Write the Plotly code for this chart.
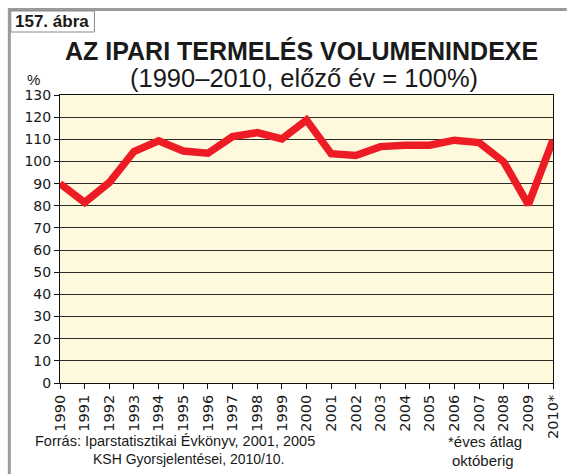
import plotly.graph_objects as go

years = list(range(1990, 2011))
index_values = [90, 81.5, 90.5, 104.5, 109.3, 104.7, 103.7, 111.2, 113, 110.2, 118.7,
                103.5, 102.7, 106.7, 107.3, 107.3, 109.6, 108.5, 99.8, 80.5, 109.7]
year_labels = [str(y) for y in years[:-1]] + ["2010*"]
y_ticks = list(range(0, 131, 10))

W, H = 573, 474
L, R, T, B = 60, 12, 95, 91
PW, PH = W - L - R, H - T - B


def px(x):
    return (x - L) / PW


def py(y):
    return (H - B - y) / PH


fig = go.Figure()
fig.add_trace(go.Scatter(
    x=years, y=index_values, mode="lines",
    line=dict(color="#ED1C24", width=7.5),
    hoverinfo="skip", showlegend=False,
))

axis_font = dict(family="DejaVu Sans, Arial", size=14, color="#1a1a1a")
fig.update_layout(
    width=W, height=H,
    margin=dict(l=L, r=R, t=T, b=B),
    paper_bgcolor="white",
    plot_bgcolor="#FEF9DD",
    showlegend=False,
    xaxis=dict(
        range=[1990, 2010], tickmode="array", tickvals=years, ticktext=year_labels,
        tickangle=-90, ticks="outside", ticklen=5, tickcolor="#111",
        showline=True, linecolor="#111", linewidth=1, mirror=True,
        showgrid=False, zeroline=False,
        tickfont=dict(family="DejaVu Sans, Arial", size=14.5, color="#1a1a1a"),
    ),
    yaxis=dict(
        range=[0, 130], tickmode="array", tickvals=y_ticks,
        ticks="outside", ticklen=5, tickcolor="#111",
        showline=True, linecolor="#111", linewidth=1, mirror=True,
        showgrid=True, gridcolor="#2a2a2a", gridwidth=1, zeroline=False,
        tickfont=axis_font,
    ),
)

gray = "#9a9a9a"
shapes = [
    dict(type="line", xref="paper", yref="paper", x0=px(8.5), x1=px(W + 2), y0=py(9.5), y1=py(9.5),
         line=dict(color=gray, width=3)),
    dict(type="line", xref="paper", yref="paper", x0=px(8.5), x1=px(8.5), y0=py(8), y1=py(H + 2),
         line=dict(color=gray, width=3)),
    dict(type="rect", xref="paper", yref="paper", x0=px(10), x1=px(95), y0=py(32), y1=py(11),
         line=dict(color="#8a8a8a", width=1), fillcolor="white"),
]
fig.update_layout(shapes=shapes)

ann = []


def txt(x, y, s, size, bold=False, family="Liberation Sans, Arial", xanchor="center"):
    ann.append(dict(
        xref="paper", yref="paper", x=px(x), y=py(y), text=(f"<b>{s}</b>" if bold else s),
        showarrow=False, xanchor=xanchor, yanchor="middle",
        font=dict(family=family, size=size, color="#1a1a1a"),
    ))


txt(52, 21, "157. ábra", 17, bold=True)
txt(305, 51, "AZ IPARI TERMELÉS VOLUMENINDEXE", 25, bold=True)
txt(308, 78, "(1990–2010, előző év = 100%)", 25.5)
txt(33, 79, "%", 15)
txt(177, 441, "Forrás: Iparstatisztikai Évkönyv, 2001, 2005", 14.5)
txt(191, 459, "KSH Gyorsjelentései, 2010/10.", 14)
txt(492, 441, "*éves átlag", 15)
txt(490, 460, "októberig", 15)
fig.update_layout(annotations=ann)

fig.write_html(
    "out.html",
    config={"displayModeBar": False, "staticPlot": True},
    post_script="document.body.style.margin='0';document.body.style.overflow='hidden';",
)
